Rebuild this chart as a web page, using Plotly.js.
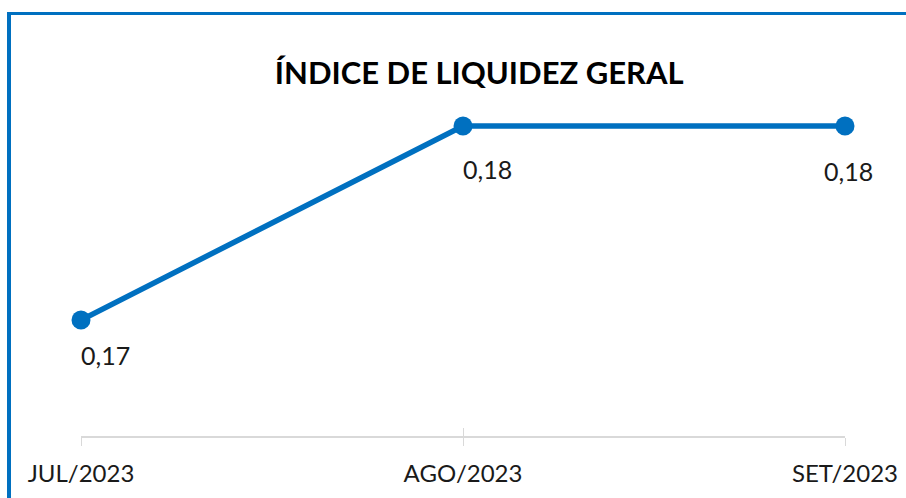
<!DOCTYPE html>
<html>
<head>
<meta charset="utf-8">
<script src="https://cdn.plot.ly/plotly-3.0.1.min.js"></script>
<style>
  html, body { margin: 0; padding: 0; background: #ffffff; }
  #frame { position: absolute; left: 7px; top: 12px; width: 899px; height: 486px;
           border-left: 4px solid #0070C0; border-top: 3px solid #0070C0; box-sizing: border-box; }
  #chart { position: absolute; left: 0; top: 0; width: 906px; height: 498px; }
</style>
</head>
<body>
<div id="frame"></div>
<div id="chart"></div>
<script>
const categories = ["JUL/2023", "AGO/2023", "SET/2023"];
const values = [0.17, 0.18, 0.18];
const labels = ["0,17", "0,18", "0,18"];
const chartTitle = "ÍNDICE DE LIQUIDEZ GERAL";

// label placement (style only)
const labelAnchor = ["left", "left", "center"];
const labelXShift = [-2, -2, 3];
const labelYShift = [-35, -43, -45];

const FONT = "Lato, 'Noto Sans', sans-serif";
const BLUE = "#0070C0";

const trace = {
  type: "scatter",
  mode: "lines+markers",
  x: categories,
  y: values,
  line: { color: BLUE, width: 5.5 },
  marker: { color: BLUE, size: 19 },
  cliponaxis: false,
  hoverinfo: "skip"
};
const ghost = {
  type: "scatter",
  mode: "markers",
  x: categories,
  y: values,
  xaxis: "x2",
  marker: { opacity: 0 },
  hoverinfo: "skip",
  showlegend: false
};

const annotations = categories.map((c, i) => ({
  x: c, y: values[i], xref: "x", yref: "y",
  text: labels[i], showarrow: false,
  xanchor: labelAnchor[i], yanchor: "middle",
  xshift: labelXShift[i], yshift: labelYShift[i],
  font: { family: FONT, size: 25, color: "#1a1a1a" }
}));

const layout = {
  width: 906, height: 498,
  margin: { l: 81, r: 61, t: 100, b: 62 },
  paper_bgcolor: "rgba(0,0,0,0)",
  plot_bgcolor: "rgba(0,0,0,0)",
  showlegend: false,
  title: {
    text: "<b>" + chartTitle + "</b>",
    font: { family: FONT, size: 31, color: "#000000" },
    x: 0.529, xanchor: "center", xref: "container",
    y: 0.853, yanchor: "middle", yref: "container"
  },
  xaxis: {
    type: "category",
    range: [0, 2],
    showline: true, linecolor: "#d9d9d9", linewidth: 2,
    ticks: "outside", ticklen: 8, tickcolor: "#d9d9d9", tickwidth: 1,
    showgrid: false, zeroline: false,
    tickfont: { family: FONT, size: 24, color: "#1a1a1a" },
    ticklabelstandoff: 7
  },
  xaxis2: {
    type: "category",
    overlaying: "x", anchor: "y",
    range: [0, 2],
    showline: false,
    ticks: "inside", ticklen: 8, tickcolor: "#d9d9d9", tickwidth: 1,
    showticklabels: false, showgrid: false, zeroline: false
  },
  yaxis: {
    range: [0.16402, 0.18134],
    visible: false, showgrid: false, zeroline: false
  },
  annotations: annotations
};

Plotly.newPlot("chart", [ghost, trace], layout, { displayModeBar: false, staticPlot: true });
</script>
</body>
</html>
